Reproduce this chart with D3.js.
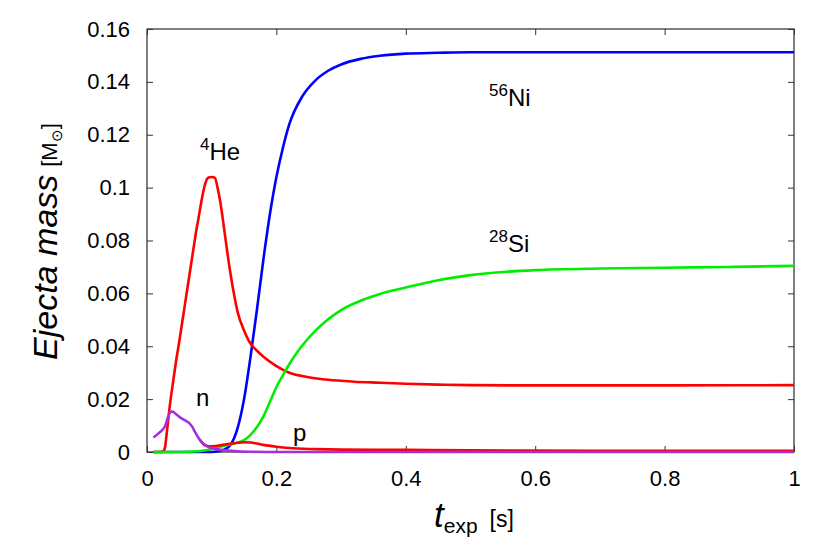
<!DOCTYPE html>
<html>
<head>
<meta charset="utf-8">
<script src="https://cdn.jsdelivr.net/npm/d3@7"></script>
<style>
  body { margin: 0; background: #fff; }
  text { font-family: "Liberation Sans", Arial, sans-serif; fill: #000; }
</style>
</head>
<body>
<svg id="chart" width="830" height="554"></svg>
<script>
// t_exp [s], mass [Msun]
const niData = [[0.01,0],[0.1,0],[0.11,0.0003],[0.12,0.001],[0.13,0.003],[0.14,0.009],[0.15,0.02],[0.16,0.036],[0.17,0.054],[0.18,0.073],[0.19,0.09],[0.2,0.104],[0.21,0.115],[0.22,0.124],[0.24,0.1345],[0.26,0.1405],[0.28,0.1442],[0.3,0.1466],[0.33,0.1487],[0.36,0.1499],[0.4,0.1507],[0.45,0.151],[0.5,0.1512],[0.6,0.1512],[0.8,0.1512],[1.0,0.1512]];
const heData = [[0.01,0],[0.022,0],[0.026,0.0005],[0.028,0.002],[0.03,0.006],[0.035,0.017],[0.04,0.026],[0.045,0.0345],[0.05,0.042],[0.055,0.05],[0.06,0.058],[0.065,0.066],[0.07,0.074],[0.075,0.082],[0.08,0.089],[0.085,0.096],[0.09,0.1015],[0.095,0.1038],[0.1,0.104],[0.105,0.1037],[0.109,0.1],[0.113,0.095],[0.12,0.083],[0.125,0.074],[0.13,0.066],[0.135,0.059],[0.14,0.053],[0.15,0.046],[0.16,0.041],[0.17,0.0383],[0.18,0.036],[0.2,0.0325],[0.22,0.03],[0.25,0.0283],[0.28,0.0273],[0.32,0.0266],[0.36,0.0262],[0.4,0.0258],[0.45,0.0255],[0.5,0.0253],[0.6,0.0252],[0.8,0.0252],[1.0,0.0253]];
const siData = [[0.01,0],[0.05,0],[0.08,0.0003],[0.1,0.001],[0.12,0.0025],[0.14,0.0035],[0.15,0.0045],[0.16,0.0065],[0.17,0.0095],[0.18,0.0135],[0.19,0.019],[0.2,0.0245],[0.21,0.029],[0.22,0.0333],[0.23,0.037],[0.24,0.0403],[0.26,0.0458],[0.28,0.0502],[0.3,0.0537],[0.33,0.0572],[0.36,0.0598],[0.4,0.0622],[0.45,0.065],[0.5,0.0669],[0.55,0.0681],[0.6,0.0688],[0.7,0.0694],[0.8,0.0697],[0.9,0.07],[1.0,0.0704]];
const pData = [[0.082,0.0045],[0.088,0.0028],[0.095,0.0022],[0.1,0.0022],[0.12,0.0028],[0.14,0.0035],[0.15,0.0037],[0.16,0.0036],[0.17,0.0032],[0.18,0.0027],[0.2,0.002],[0.22,0.0015],[0.26,0.0011],[0.3,0.0009],[0.4,0.0008],[0.5,0.0006],[0.7,0.0005],[1.0,0.0005]];
const nData = [[0.01,0.0055],[0.02,0.0075],[0.028,0.0098],[0.033,0.0135],[0.037,0.0153],[0.04,0.0152],[0.045,0.0143],[0.05,0.0133],[0.055,0.0125],[0.06,0.0118],[0.065,0.011],[0.07,0.0095],[0.075,0.0072],[0.08,0.0052],[0.085,0.0036],[0.09,0.0026],[0.095,0.0019],[0.1,0.0015],[0.11,0.001],[0.12,0.0006],[0.14,0.0003],[0.16,0.0001],[0.2,0],[1.0,0]];

const xTicks = [0, 0.2, 0.4, 0.6, 0.8, 1];
const yTicks = [0, 0.02, 0.04, 0.06, 0.08, 0.1, 0.12, 0.14, 0.16];

const svg = d3.select("#chart");
const mLeft = 147, mRight = 794, mTop = 29, mBottom = 452;

const x = d3.scaleLinear().domain([0, 1]).range([mLeft, mRight]);
const y = d3.scaleLinear().domain([0, 0.16]).range([mBottom, mTop]);

// frame
svg.append("rect")
  .attr("x", mLeft).attr("y", mTop)
  .attr("width", mRight - mLeft).attr("height", mBottom - mTop)
  .attr("fill", "none").attr("stroke", "#000").attr("stroke-width", 1);

const fmt = d => d === 0 ? "0" : String(d);

// inward ticks (gnuplot style), mirrored
const tickLen = 6;
const gx = svg.append("g").attr("transform", `translate(0,${mBottom})`)
  .call(d3.axisBottom(x).tickValues(xTicks).tickSize(-tickLen).tickPadding(tickLen + 12).tickFormat(fmt));
const gy = svg.append("g").attr("transform", `translate(${mLeft},0)`)
  .call(d3.axisLeft(y).tickValues(yTicks).tickSize(-tickLen).tickPadding(tickLen + 11).tickFormat(fmt));
const gx2 = svg.append("g").attr("transform", `translate(0,${mTop})`)
  .call(d3.axisTop(x).tickValues(xTicks).tickSize(-tickLen).tickFormat(""));
const gy2 = svg.append("g").attr("transform", `translate(${mRight},0)`)
  .call(d3.axisRight(y).tickValues(yTicks).tickSize(-tickLen).tickFormat(""));

[gx, gy, gx2, gy2].forEach(g => {
  g.select(".domain").remove();
  g.selectAll(".tick line").attr("stroke", "#333");
  g.selectAll(".tick text").style("font-family", "Liberation Sans, Arial, sans-serif").style("font-size", "22px").attr("fill", "#000");
});

const line = d3.line()
  .x(d => x(d[0]))
  .y(d => y(d[1]))
  .curve(d3.curveMonotoneX);

const series = [
  {data: niData, color: "#0000ff"},
  {data: heData, color: "#ff0000"},
  {data: siData, color: "#00ee00"},
  {data: pData, color: "#ff0000"},
  {data: nData, color: "#a030e0"}
];

svg.append("g").selectAll("path")
  .data(series)
  .enter()
  .append("path")
  .attr("d", d => line(d.data))
  .attr("fill", "none")
  .attr("stroke", d => d.color)
  .attr("stroke-width", 2.6)
  .attr("stroke-linejoin", "round");

// curve labels
function isoLabel(px, py, sup, name) {
  const t = svg.append("text").attr("x", px).attr("y", py).style("font-size", "24px");
  t.append("tspan").text(sup).style("font-size", "17px").attr("dy", -10);
  t.append("tspan").text(name).attr("dy", 10);
}
isoLabel(200, 160, "4", "He");
isoLabel(489, 106, "56", "Ni");
isoLabel(489, 252, "28", "Si");
svg.append("text").attr("x", 196).attr("y", 406).style("font-size", "24px").text("n");
svg.append("text").attr("x", 293).attr("y", 441).style("font-size", "24px").text("p");

// axis titles
const xt = svg.append("text").attr("x", 434).attr("y", 527);
xt.append("tspan").text("t").style("font-size", "35px").style("font-style", "italic");
xt.append("tspan").text("exp").style("font-size", "21px").attr("dy", 6);
xt.append("tspan").text("[s]").style("font-size", "23px").attr("dy", -6).attr("dx", 12);

const yt = svg.append("text").attr("transform", "translate(57,360) rotate(-90)");
yt.append("tspan").text("Ejecta mass").style("font-size", "34px").style("font-style", "italic");
yt.append("tspan").text("[M").style("font-size", "22px").attr("dx", 8);
yt.append("tspan").text("\u2299").style("font-size", "15px").attr("dy", 5);
yt.append("tspan").text("]").style("font-size", "22px").attr("dy", -5);
</script>
</body>
</html>
